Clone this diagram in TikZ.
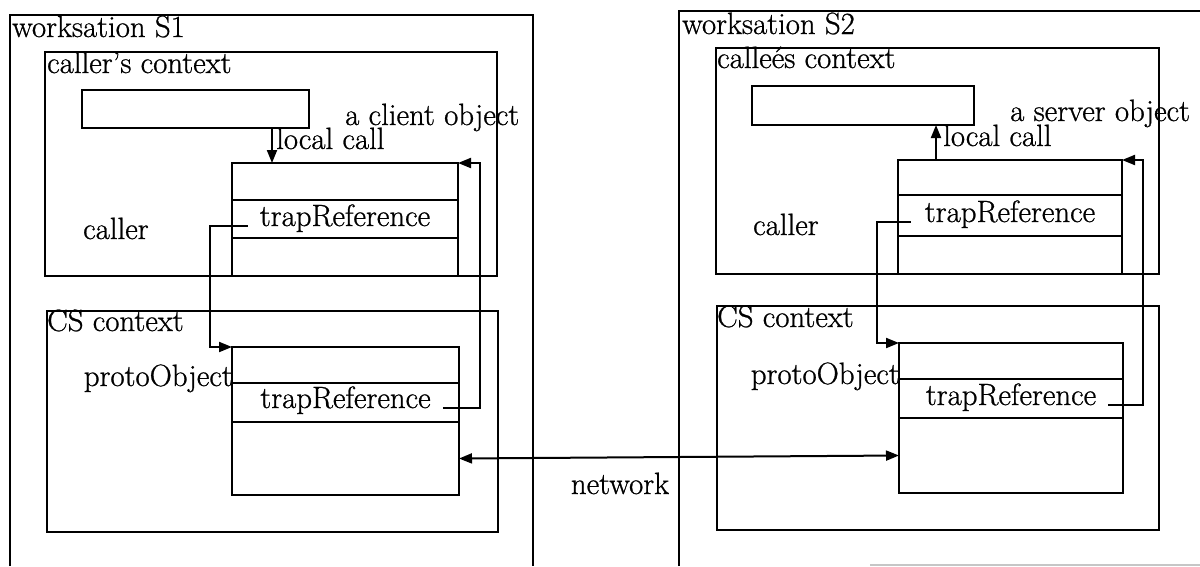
\documentclass[tikz,border=0pt]{standalone}
\usepackage{fontspec}
\newfontfamily\scanfont{Latin Modern Roman}[FakeBold=0.8,Ligatures=TeX]
\usetikzlibrary{arrows.meta,calc}
\tikzset{
  ln/.style={line width=2pt},
  box/.style={draw, line width=2pt, inner sep=0pt, outer sep=0pt, anchor=north west},
  lbl/.style={inner sep=0pt, font=\scanfont\fontsize{30.8}{36}\selectfont},
  arr/.style={line width=2pt, -{Triangle[length=13pt,width=10pt]}},
  darr/.style={line width=2pt, {Triangle[length=13pt,width=10pt]}-{Triangle[length=13pt,width=10pt]}},
}
\begin{document}
\begin{tikzpicture}[x=1pt,y=-1pt]
\useasboundingbox (0,0) rectangle (1200,566);
% ---------- workstation S1 ----------
\coordinate (w1bl) at (10,566);
\coordinate (w1tr) at (533,15);
\draw[ln] (w1bl) |- (w1tr) -- (533,566);
\node[lbl, anchor=base west] (w1lab) at (12,37) {worksation S1};
% caller's context
\node[box, minimum width=452pt, minimum height=224pt] (ctx1) at (45,52) {};
\node[lbl, anchor=base west] (ctx1lab) at (47,73) {caller’s context};
\node[box, minimum width=227pt, minimum height=38pt] (sb1) at (82,90) {};
\node[box, minimum width=226pt, minimum height=37pt] (c1r1) at (232,163) {};
\node[box, minimum width=226pt, minimum height=38pt] (c1r2) at (232,200) {};
\node[box, minimum width=226pt, minimum height=38pt] (c1r3) at (232,238) {};
\node[lbl, anchor=base] (t1) at ($(c1r2.south)+(0,-12)$) {trapReference};
\node[lbl, anchor=base west] (clobj) at (345,125) {a client object};
\node[lbl, anchor=base west] (lc1) at (276,149) {local call};
\node[lbl, anchor=base west] (caller1) at (83,239) {caller};
% CS context S1
\node[box, minimum width=451pt, minimum height=221pt] (cs1) at (47,311) {};
\node[lbl, anchor=base west] (cs1lab) at (47,331) {CS context};
\node[box, minimum width=227pt, minimum height=36pt] (p1r1) at (232,347) {};
\node[box, minimum width=227pt, minimum height=39pt] (p1r2) at (232,383) {};
\node[box, minimum width=227pt, minimum height=73pt] (p1r3) at (232,422) {};
\node[lbl, anchor=base] (t2) at ($(p1r2.south)+(0,-14)$) {trapReference};
\node[lbl, anchor=base east] (po1) at (233,386) {protoObject};
% connectors S1
\draw[arr] ($(sb1.south west)+(190,0)$) -- ($(c1r1.north west)+(40,0)$);
\draw[arr] ([xshift=-12pt]t1.base west) -| ($(p1r1.north west)+(-22,0)$) -- (p1r1.north west);
\draw[arr] ([xshift=12pt]t2.base east) -| ($(c1r1.north east)+(22,0)$) -- (c1r1.north east);

% ---------- workstation S2 ----------
\coordinate (w2bl) at (679,566);
\coordinate (w2tr) at (1200,11);
\draw[ln] (w2bl) |- (w2tr);
\node[lbl, anchor=base west] (w2lab) at (682,34) {worksation S2};
\node[box, minimum width=443pt, minimum height=226pt] (ctx2) at (716,48) {};
\node[lbl, anchor=base west] (ctx2lab) at (717,68) {calleés context};
\node[box, minimum width=222pt, minimum height=39pt] (sb2) at (752,86) {};
\node[box, minimum width=224pt, minimum height=35pt] (c2r1) at (898,160) {};
\node[box, minimum width=224pt, minimum height=41pt] (c2r2) at (898,195) {};
\node[box, minimum width=224pt, minimum height=38pt] (c2r3) at (898,236) {};
\node[lbl, anchor=base] (t3) at ($(c2r2.south)+(0,-14)$) {trapReference};
\node[lbl, anchor=base west] (svobj) at (1010,121) {a server object};
\node[lbl, anchor=base west] (lc2) at (943,146) {local call};
\node[lbl, anchor=base west] (caller2) at (753,235) {caller};
% CS context S2
\node[box, minimum width=442pt, minimum height=224pt] (cs2) at (717,306) {};
\node[lbl, anchor=base west] (cs2lab) at (717,327) {CS context};
\node[box, minimum width=224pt, minimum height=36pt] (p2r1) at (899,343) {};
\node[box, minimum width=224pt, minimum height=39pt] (p2r2) at (899,379) {};
\node[box, minimum width=224pt, minimum height=75pt] (p2r3) at (899,418) {};
\node[lbl, anchor=base] (t4) at ($(p2r2.south)+(0,-13)$) {trapReference};
\node[lbl, anchor=base east] (po2) at (900,384) {protoObject};
% connectors S2
\draw[arr] ($(c2r1.north west)+(38,0)$) -- ($(sb2.south west)+(184,0)$);
\draw[arr] ([xshift=-14pt]t3.base west) -| ($(p2r1.north west)+(-22,0)$) -- (p2r1.north west);
\draw[arr] ([xshift=12pt]t4.base east) -| ($(c2r1.north east)+(21,0)$) -- (c2r1.north east);

% ---------- network ----------
\draw[darr] (p1r3.east) -- (p2r3.west);
\node[lbl, anchor=base] (net) at (620,494) {network};
% faint scan edge
\draw[gray!45, line width=1.5pt] (870,565) -- (1200,565);
\end{tikzpicture}
\end{document}
